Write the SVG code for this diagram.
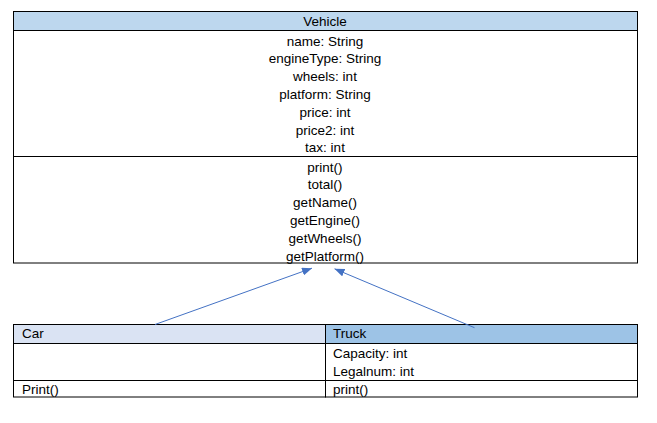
<svg xmlns="http://www.w3.org/2000/svg" width="657" height="423" viewBox="0 0 657 423">
<style>
.t{font-family:"Liberation Sans",Arial,sans-serif;font-size:13.5px;fill:#000}
.c{text-anchor:middle}
.box{fill:#fff;stroke:#000;stroke-width:1}
.ln{stroke:#000;stroke-width:1;fill:none}
.conn{stroke:#4472C4;stroke-width:1;fill:none}
</style>
<defs>
<marker id="arr" markerUnits="userSpaceOnUse" markerWidth="10" markerHeight="8" refX="10" refY="4" orient="auto">
<path d="M0,0 L10,4 L0,8 z" fill="#4472C4"/>
</marker>
</defs>
<rect width="657" height="423" fill="#fff"/>
<g id="vehicle">
<rect class="box" x="13.5" y="11.5" width="624" height="251.5"/>
<rect x="14" y="12" width="623" height="18" fill="#BDD7EE"/>
<line class="ln" x1="13.5" y1="30.5" x2="637.5" y2="30.5"/>
<line class="ln" x1="13.5" y1="156.5" x2="637.5" y2="156.5"/>
<text class="t c" x="325" y="25.5">Vehicle</text>
<text class="t c" x="325" y="45.5">name: String</text>
<text class="t c" x="325" y="63.3">engineType: String</text>
<text class="t c" x="325" y="81.1">wheels: int</text>
<text class="t c" x="325" y="98.9">platform: String</text>
<text class="t c" x="325" y="116.7">price: int</text>
<text class="t c" x="325" y="134.5">price2: int</text>
<text class="t c" x="325" y="152.3">tax: int</text>
<text class="t c" x="325" y="171.5">print()</text>
<text class="t c" x="325" y="189.3">total()</text>
<text class="t c" x="325" y="207.1">getName()</text>
<text class="t c" x="325" y="224.9">getEngine()</text>
<text class="t c" x="325" y="242.7">getWheels()</text>
<text class="t c" x="325" y="260.5">getPlatform()</text>
</g>
<g id="car">
<rect x="14" y="324" width="311.5" height="19" fill="#DAE3F3"/>
<rect class="box" x="13.5" y="324.5" width="312" height="72.5" style="fill:none"/>
<line class="ln" x1="13.5" y1="343.5" x2="325.5" y2="343.5"/>
<line class="ln" x1="13.5" y1="380.5" x2="325.5" y2="380.5"/>
<text class="t" x="22" y="337.5">Car</text>
<text class="t" x="22" y="393.5">Print()</text>
</g>
<g id="truck">
<rect x="326" y="324" width="311" height="19" fill="#9DC3E6"/>
<rect class="box" x="325.5" y="324.5" width="312" height="72.5" style="fill:none"/>
<line class="ln" x1="325.5" y1="343.5" x2="637.5" y2="343.5"/>
<line class="ln" x1="325.5" y1="380.5" x2="637.5" y2="380.5"/>
<text class="t" x="333" y="337.5">Truck</text>
<text class="t" x="333" y="357.5">Capacity: int</text>
<text class="t" x="333" y="375.5">Legalnum: int</text>
<text class="t" x="333" y="393.5">print()</text>
</g>
<g id="connectors">
<line class="conn" x1="155" y1="324.5" x2="312" y2="268.2" marker-end="url(#arr)"/>
<line class="conn" x1="474.5" y1="327.7" x2="334.5" y2="268.8" marker-end="url(#arr)"/>
</g>
</svg>
